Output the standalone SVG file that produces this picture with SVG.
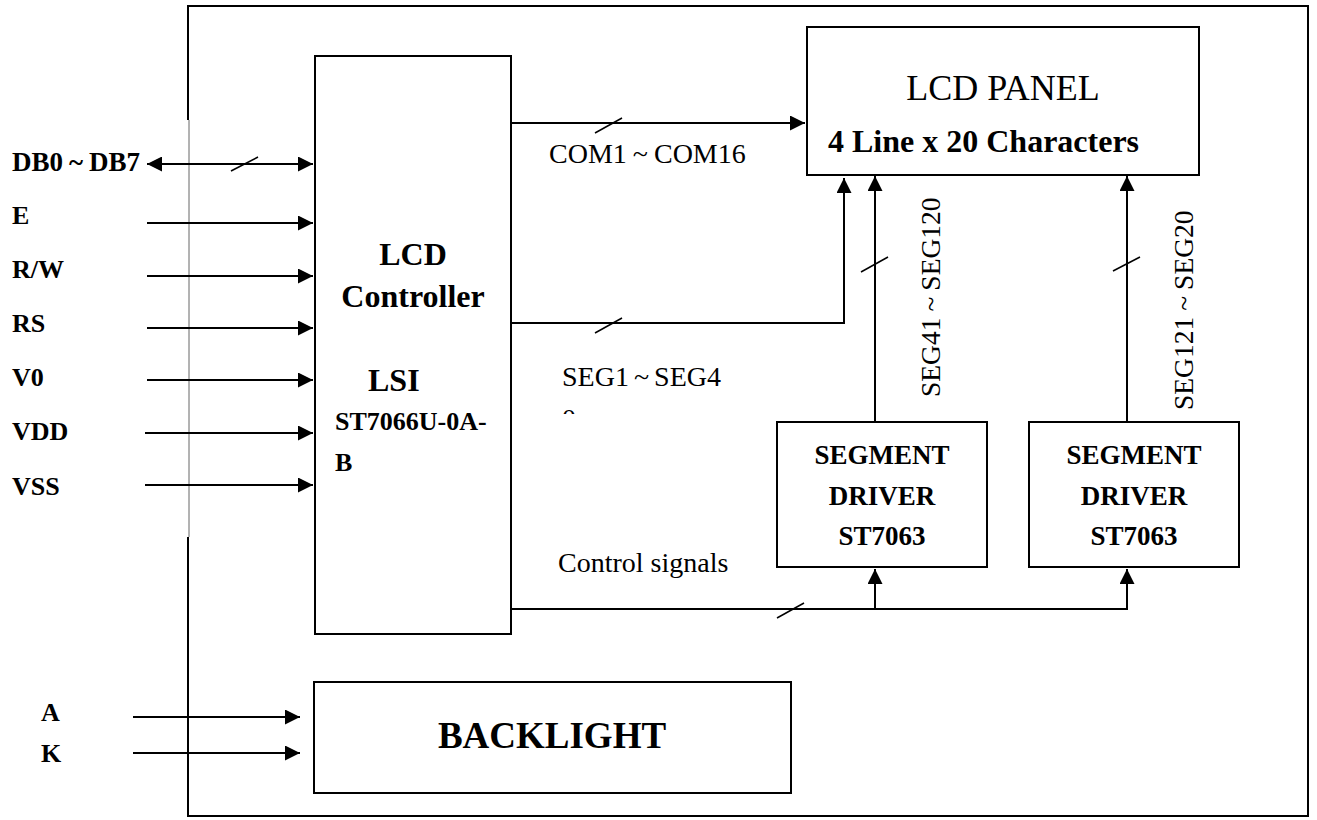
<svg xmlns="http://www.w3.org/2000/svg" width="1317" height="820" viewBox="0 0 1317 820">
<style>
.box{fill:#fff;stroke:#000;stroke-width:2}
.ln{fill:none;stroke:#000;stroke-width:2}
.sl{fill:none;stroke:#000;stroke-width:1.5}
.b{font-family:"Liberation Serif","Noto Sans CJK SC",serif;font-weight:bold;fill:#000}
.r{font-family:"Liberation Serif","Noto Sans CJK SC",serif;fill:#000}
</style>
<defs>
<marker id="ah" viewBox="0 0 15 15" markerWidth="15" markerHeight="15" refX="15" refY="7.5" orient="auto-start-reverse" markerUnits="userSpaceOnUse">
<path d="M0,0 L15,7.5 L0,15 z" fill="#000"/>
</marker>
<clipPath id="clip0"><rect x="550" y="400" width="40" height="14"/></clipPath>
</defs>
<rect width="1317" height="820" fill="#fff"/>

<g id="frame">
<path class="ln" d="M188,120 V6 H1308 V816 H188 V537"/>
<line x1="189" y1="120" x2="189" y2="537" stroke="#666" stroke-width="1"/>
</g>

<g id="controller">
<rect class="box" x="315" y="56" width="196" height="578"/>
<text class="b" x="413" y="265" font-size="32" text-anchor="middle">LCD</text>
<text class="b" x="413" y="307" font-size="32" text-anchor="middle">Controller</text>
<text class="b" x="368" y="391" font-size="32">LSI</text>
<text class="b" x="335" y="430" font-size="26">ST7066U-0A-</text>
<text class="b" x="335" y="471" font-size="26">B</text>
</g>

<g id="lcd-panel">
<rect class="box" x="807" y="27" width="392" height="148"/>
<text class="r" x="1003" y="100" font-size="36" text-anchor="middle">LCD PANEL</text>
<text class="b" x="828" y="152" font-size="32">4 Line x 20 Characters</text>
</g>

<g id="driver1">
<rect class="box" x="777" y="422" width="210" height="145"/>
<text class="b" x="882" y="464" font-size="27" text-anchor="middle">SEGMENT</text>
<text class="b" x="882" y="505" font-size="27" text-anchor="middle">DRIVER</text>
<text class="b" x="882" y="545" font-size="27" text-anchor="middle">ST7063</text>
</g>

<g id="driver2">
<rect class="box" x="1029" y="422" width="210" height="145"/>
<text class="b" x="1134" y="464" font-size="27" text-anchor="middle">SEGMENT</text>
<text class="b" x="1134" y="505" font-size="27" text-anchor="middle">DRIVER</text>
<text class="b" x="1134" y="545" font-size="27" text-anchor="middle">ST7063</text>
</g>

<g id="backlight">
<rect class="box" x="314" y="682" width="477" height="111"/>
<text class="b" x="552" y="748" font-size="37" text-anchor="middle">BACKLIGHT</text>
</g>

<g id="pin-labels">
<text class="b" x="12" y="171" font-size="27">DB0<tspan dx="6">~</tspan><tspan dx="6">DB7</tspan></text>
<text class="b" x="12" y="224" font-size="26">E</text>
<text class="b" x="12" y="278" font-size="26">R/W</text>
<text class="b" x="12" y="332" font-size="26">RS</text>
<text class="b" x="12" y="386" font-size="26">V0</text>
<text class="b" x="12" y="440" font-size="26">VDD</text>
<text class="b" x="12" y="495" font-size="26">VSS</text>
<text class="b" x="41" y="721" font-size="26">A</text>
<text class="b" x="41" y="762" font-size="26">K</text>
</g>

<g id="connectors">
<line class="ln" x1="147" y1="164" x2="313" y2="164" marker-start="url(#ah)" marker-end="url(#ah)"/>
<line class="ln" x1="147" y1="223" x2="313" y2="223" marker-end="url(#ah)"/>
<line class="ln" x1="147" y1="276" x2="313" y2="276" marker-end="url(#ah)"/>
<line class="ln" x1="147" y1="328" x2="313" y2="328" marker-end="url(#ah)"/>
<line class="ln" x1="147" y1="380" x2="313" y2="380" marker-end="url(#ah)"/>
<line class="ln" x1="145" y1="433" x2="313" y2="433" marker-end="url(#ah)"/>
<line class="ln" x1="145" y1="485" x2="313" y2="485" marker-end="url(#ah)"/>
<line class="ln" x1="133" y1="717" x2="300" y2="717" marker-end="url(#ah)"/>
<line class="ln" x1="133" y1="753" x2="300" y2="753" marker-end="url(#ah)"/>

<line class="ln" x1="511" y1="123" x2="805" y2="123" marker-end="url(#ah)"/>
<path class="ln" d="M511,323 H844 V178" marker-end="url(#ah)"/>
<line class="ln" x1="875" y1="422" x2="875" y2="176" marker-end="url(#ah)"/>
<line class="ln" x1="1127" y1="422" x2="1127" y2="176" marker-end="url(#ah)"/>
<path class="ln" d="M511,609 H1127 V569" marker-end="url(#ah)"/>
<line class="ln" x1="875" y1="609" x2="875" y2="569" marker-end="url(#ah)"/>

<line class="sl" x1="231" y1="171" x2="258" y2="157"/>
<line class="sl" x1="595" y1="133" x2="622" y2="118"/>
<line class="sl" x1="595" y1="333" x2="622" y2="318"/>
<line class="sl" x1="861" y1="272" x2="888" y2="257"/>
<line class="sl" x1="1113" y1="271" x2="1140" y2="257"/>
<line class="sl" x1="777" y1="618" x2="804" y2="603"/>

<text class="r" x="549" y="163" font-size="28">COM1<tspan dx="6">~</tspan><tspan dx="6">COM16</tspan></text>
<text class="r" x="562" y="386" font-size="28">SEG1<tspan dx="5">~</tspan><tspan dx="5">SEG4</tspan></text>
<text class="r" x="562" y="428" font-size="28" clip-path="url(#clip0)">0</text>
<text class="r" x="558" y="572" font-size="28">Control signals</text>
<text class="r" font-size="27.5" transform="translate(940,397) rotate(-90)">SEG41<tspan dx="6">~</tspan><tspan dx="6">SEG120</tspan></text>
<text class="r" font-size="27.5" transform="translate(1193,410) rotate(-90)">SEG121<tspan dx="6">~</tspan><tspan dx="6">SEG20</tspan></text>
</g>
</svg>
